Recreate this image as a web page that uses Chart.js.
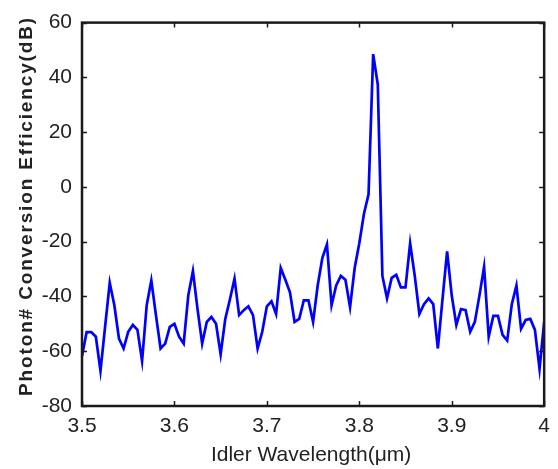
<!DOCTYPE html>
<html>
<head>
<meta charset="utf-8">
<script src="https://cdn.jsdelivr.net/npm/chart.js@4.4.1/dist/chart.umd.min.js"></script>
<style>
    html, body { margin: 0; padding: 0; background: #fff; }
    #wrap { width: 558px; height: 469px; }
</style>
</head>
<body>
<div id="wrap"><canvas id="effChart" width="558" height="469"></canvas></div>
<script>
// Idler wavelength samples (um)
const wavelengths = [
    3.500, 3.505, 3.510, 3.515, 3.520, 3.525, 3.530, 3.535, 3.540, 3.545,
    3.550, 3.555, 3.560, 3.565, 3.570, 3.575, 3.580, 3.585, 3.590, 3.595,
    3.600, 3.605, 3.610, 3.615, 3.620, 3.625, 3.630, 3.635, 3.640, 3.645,
    3.650, 3.655, 3.660, 3.665, 3.670, 3.675, 3.680, 3.685, 3.690, 3.695,
    3.700, 3.705, 3.710, 3.715, 3.720, 3.725, 3.730, 3.735, 3.740, 3.745,
    3.750, 3.755, 3.760, 3.765, 3.770, 3.775, 3.780, 3.785, 3.790, 3.795,
    3.800, 3.805, 3.810, 3.815, 3.820, 3.825, 3.830, 3.835, 3.840, 3.845,
    3.850, 3.855, 3.860, 3.865, 3.870, 3.875, 3.880, 3.885, 3.890, 3.895,
    3.900, 3.905, 3.910, 3.915, 3.920, 3.925, 3.930, 3.935, 3.940, 3.945,
    3.950, 3.955, 3.960, 3.965, 3.970, 3.975, 3.980, 3.985, 3.990, 3.995,
    4.000
];

// Photon# conversion efficiency (dB)
const efficiency = [
    -61.8, -53.0, -53.0, -54.7, -67.2, -51.0, -35.0, -43.2, -55.4, -59.0,
    -52.9, -50.4, -52.2, -63.6, -43.2, -34.2, -46.8, -59.0, -57.2, -51.1,
    -50.0, -54.7, -57.2, -39.6, -30.7, -44.6, -57.2, -49.3, -47.5, -50.0,
    -61.1, -48.2, -41.1, -33.5, -46.8, -45.0, -43.6, -46.8, -59.0, -52.9,
    -43.6, -41.8, -46.4, -29.6, -33.9, -38.5, -49.3, -48.2, -41.4, -41.4,
    -49.3, -36.0, -26.0, -21.0, -43.2, -36.0, -32.5, -33.9, -43.9, -29.6,
    -20.6, -9.9, -2.7, 48.5, 37.4, -32.5, -40.7, -33.2, -32.1, -36.7,
    -36.7, -20.6, -32.5, -46.4, -42.8, -40.7, -42.8, -59.0, -41.1, -23.5,
    -39.6, -50.4, -44.6, -45.0, -52.9, -49.3, -39.6, -29.2, -54.7, -47.1,
    -47.1, -54.0, -56.1, -42.8, -36.0, -51.8, -48.6, -48.2, -52.2, -66.5,
    -49.3
];

const xTicks = [3.5, 3.6, 3.7, 3.8, 3.9, 4];
const yTicks = [-80, -60, -40, -20, 0, 20, 40, 60];

const xTitle = "Idler Wavelength(\u03bcm)";
const yTitle = "Photon# Conversion Efficiency(dB)";

const FONT = "'Liberation Sans', Arial, sans-serif";
const TEXT_COLOR = "#222";

// frame, inward ticks and axis titles (MATLAB-like box)
const framePlugin = {
    id: 'frame',
    afterDraw(chart) {
        const { ctx, chartArea: a, scales } = chart;
        ctx.save();
        ctx.strokeStyle = "#1a1a1a";
        ctx.lineWidth = 2.5;
        ctx.strokeRect(a.left, a.top, a.right - a.left, a.bottom - a.top);

        ctx.lineWidth = 1.5;
        const len = 5;
        ctx.beginPath();
        xTicks.forEach(v => {
            const px = Math.round(scales.x.getPixelForValue(v)) + 0.5;
            ctx.moveTo(px, a.bottom); ctx.lineTo(px, a.bottom - len);
            ctx.moveTo(px, a.top); ctx.lineTo(px, a.top + len);
        });
        yTicks.forEach(v => {
            const py = Math.round(scales.y.getPixelForValue(v)) + 0.5;
            ctx.moveTo(a.left, py); ctx.lineTo(a.left + len, py);
            ctx.moveTo(a.right, py); ctx.lineTo(a.right - len, py);
        });
        ctx.stroke();

        // axis titles
        ctx.fillStyle = TEXT_COLOR;
        ctx.font = "21px " + FONT;
        ctx.textAlign = "center";
        ctx.textBaseline = "middle";
        ctx.fillText(xTitle, (a.left + a.right) / 2 - 2, 455);

        ctx.translate(27, 206);
        ctx.rotate(-Math.PI / 2);
        ctx.font = "bold 19px " + FONT;
        const w = ctx.measureText(yTitle).width;
        const spacing = Math.max(0, (378 - w) / (yTitle.length - 1));
        ctx.letterSpacing = spacing.toFixed(2) + "px";
        ctx.fillText(yTitle, 0, 0);
        ctx.restore();
    }
};

const points = wavelengths.map((x, i) => ({ x: x, y: efficiency[i] }));

new Chart(document.getElementById('effChart'), {
    type: 'line',
    data: {
        datasets: [{
            data: points,
            borderColor: '#0000ff',
            borderWidth: 2.7,
            pointRadius: 0,
            tension: 0,
            fill: false
        }]
    },
    options: {
        responsive: false,
        animation: false,
        events: [],
        layout: { padding: { top: 15, right: 3, left: 0, bottom: 0 } },
        plugins: {
            legend: { display: false },
            tooltip: { enabled: false }
        },
        scales: {
            x: {
                type: 'linear',
                min: 3.5,
                max: 4,
                afterBuildTicks: s => { s.ticks = xTicks.map(v => ({ value: v })); },
                afterFit: s => { s.height = 63; },
                grid: { display: false, drawTicks: false },
                border: { display: false },
                ticks: {
                    padding: 8,
                    color: TEXT_COLOR,
                    font: { family: FONT, size: 21 },
                    maxRotation: 0,
                    autoSkip: false,
                    callback: v => (v === 4 ? '4' : v.toFixed(1))
                }
            },
            y: {
                min: -80,
                max: 60,
                afterBuildTicks: s => { s.ticks = yTicks.map(v => ({ value: v })); },
                afterFit: s => { s.width = 82; },
                grid: { display: false, drawTicks: false },
                border: { display: false },
                ticks: {
                    padding: 10,
                    color: TEXT_COLOR,
                    font: { family: FONT, size: 21 },
                    autoSkip: false
                }
            }
        }
    },
    plugins: [framePlugin]
});
</script>
</body>
</html>
